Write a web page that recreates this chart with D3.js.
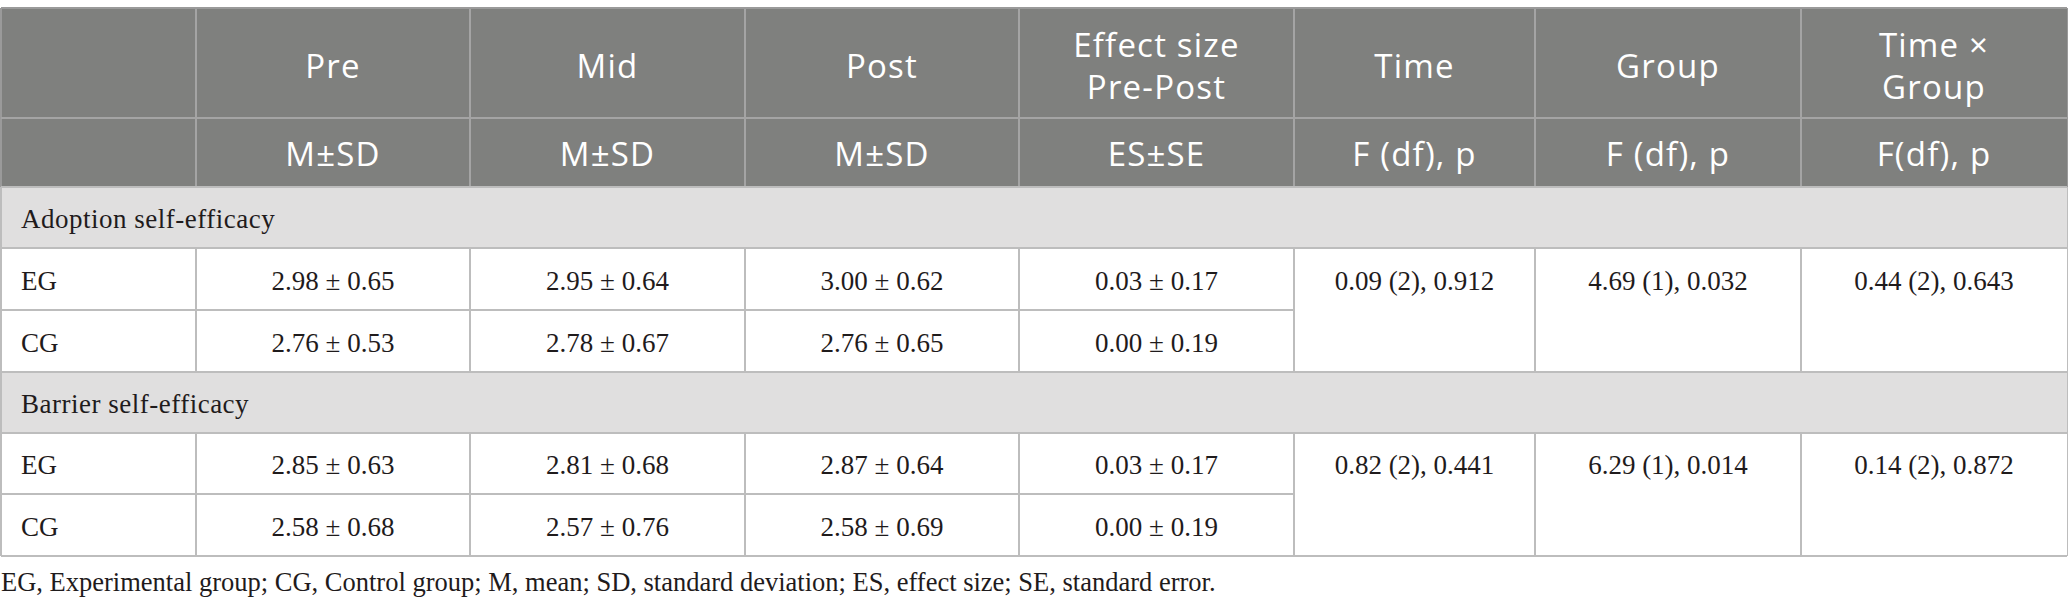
<!DOCTYPE html>
<html>
<head>
<meta charset="utf-8">
<script src="https://cdn.jsdelivr.net/npm/d3@7"></script>
<style>
  body { margin: 0; background: #fff; }
  svg { display: block; }
</style>
</head>
<body>
<svg id="table" width="2068" height="612"></svg>
<script>
/*******************************************************************************
 * Table content
 *******************************************************************************/
const headerTop = ["Pre", "Mid", "Post", "Effect size\nPre-Post", "Time", "Group", "Time \u00d7\nGroup"];
const headerSub = ["M\u00b1SD", "M\u00b1SD", "M\u00b1SD", "ES\u00b1SE", "F (df), p", "F (df), p", "F(df), p"];
const sections = ["Adoption self-efficacy", "Barrier self-efficacy"];
const groups = ["EG", "CG"];

// [mean, sd] for Pre, Mid, Post and [es, se] for the pre-post effect size
const adoptionEG = [[2.98, 0.65], [2.95, 0.64], [3.00, 0.62], [0.03, 0.17]];
const adoptionCG = [[2.76, 0.53], [2.78, 0.67], [2.76, 0.65], [0.00, 0.19]];
const barrierEG = [[2.85, 0.63], [2.81, 0.68], [2.87, 0.64], [0.03, 0.17]];
const barrierCG = [[2.58, 0.68], [2.57, 0.76], [2.58, 0.69], [0.00, 0.19]];

// [F, df, p] for Time, Group, Time x Group
const adoptionTests = [[0.09, 2, "0.912"], [4.69, 1, "0.032"], [0.44, 2, "0.643"]];
const barrierTests = [[0.82, 2, "0.441"], [6.29, 1, "0.014"], [0.14, 2, "0.872"]];

const footnote = "EG, Experimental group; CG, Control group; M, mean; SD, standard deviation; ES, effect size; SE, standard error.";

/*******************************************************************************
 * Layout
 *******************************************************************************/
const colEdges = [0, 196, 470, 745, 1019, 1294, 1535, 1801, 2067];
const rowKeys = ["head1", "head2", "sec0", "sec0EG", "sec0CG", "sec1", "sec1EG", "sec1CG"];
const rowEdges = [8, 118, 187, 248, 310, 372, 433, 494, 556];

const colKeys = d3.range(colEdges.length - 1);
const x0 = d3.scaleOrdinal().domain(colKeys).range(colEdges.slice(0, -1));
const x1 = d3.scaleOrdinal().domain(colKeys).range(colEdges.slice(1));
const y0 = d3.scaleOrdinal().domain(rowKeys).range(rowEdges.slice(0, -1));
const y1 = d3.scaleOrdinal().domain(rowKeys).range(rowEdges.slice(1));
const xMid = c => (x0(c) + x1(c)) / 2;
const yMid = r => (y0(r) + y1(r)) / 2;

const fmt = d3.format(".2f");
const headFont = "'Open Sans', sans-serif";
const bodyFont = "'Liberation Serif', 'Times New Roman', serif";
const headBg = "#7f807e", headLine = "#a4a4a4", bandBg = "#e0dfdf", bodyLine = "#bdbdbd";
const textColor = "#1f1b1c";

const svg = d3.select("#table");

/*******************************************************************************
 * Backgrounds
 *******************************************************************************/
svg.append("rect")
  .attr("x", colEdges[0]).attr("y", y0("head1"))
  .attr("width", colEdges[colEdges.length - 1] - colEdges[0])
  .attr("height", y1("head2") - y0("head1"))
  .attr("fill", headBg);

sections.forEach((s, i) => {
  const key = "sec" + i;
  svg.append("rect")
    .attr("x", colEdges[0]).attr("y", y0(key))
    .attr("width", colEdges[colEdges.length - 1] - colEdges[0])
    .attr("height", y1(key) - y0(key))
    .attr("fill", bandBg);
});

/*******************************************************************************
 * Grid lines
 *******************************************************************************/
const grid = svg.append("g").attr("shape-rendering", "crispEdges").attr("stroke-width", 1.5);
const left = colEdges[0] + 0.75, right = colEdges[colEdges.length - 1] + 0.25;

// header vertical + horizontal lines
colEdges.forEach((cx, i) => {
  const xx = i === 0 ? left : (i === colEdges.length - 1 ? right : cx);
  grid.append("line").attr("x1", xx).attr("x2", xx)
    .attr("y1", y0("head1")).attr("y2", y1("head2"))
    .attr("stroke", i === 0 || i === colEdges.length - 1 ? "#9a9a9a" : headLine);
});
grid.append("line").attr("x1", left).attr("x2", right)
  .attr("y1", y0("head1")).attr("y2", y0("head1")).attr("stroke", "#9a9a9a");
grid.append("line").attr("x1", left).attr("x2", right)
  .attr("y1", y1("head1")).attr("y2", y1("head1")).attr("stroke", headLine);

// body
sections.forEach((s, i) => {
  const key = "sec" + i;
  [y0(key), y1(key)].forEach(yy => {
    grid.append("line").attr("x1", left).attr("x2", right)
      .attr("y1", yy).attr("y2", yy).attr("stroke", bodyLine);
  });
  grid.append("line").attr("x1", left).attr("x2", left)
    .attr("y1", y0(key)).attr("y2", y1(key + "CG")).attr("stroke", bodyLine);
  grid.append("line").attr("x1", right).attr("x2", right)
    .attr("y1", y0(key)).attr("y2", y1(key + "CG")).attr("stroke", bodyLine);
  colEdges.slice(1, -1).forEach(cx => {
    grid.append("line").attr("x1", cx).attr("x2", cx)
      .attr("y1", y0(key + "EG")).attr("y2", y1(key + "CG")).attr("stroke", bodyLine);
  });
  // split EG / CG only up to the merged test columns
  grid.append("line").attr("x1", left).attr("x2", x0(5))
    .attr("y1", y1(key + "EG")).attr("y2", y1(key + "EG")).attr("stroke", bodyLine);
});
grid.append("line").attr("x1", left).attr("x2", right)
  .attr("y1", y1("sec1CG")).attr("y2", y1("sec1CG")).attr("stroke", bodyLine);

/*******************************************************************************
 * Header text
 *******************************************************************************/
const head = svg.append("g")
  .attr("font-family", headFont).attr("font-size", 33).attr("fill", "#fff")
  .attr("text-anchor", "middle").attr("letter-spacing", 1.2);

headerTop.forEach((label, i) => {
  const lines = label.split("\n");
  const c = i + 1;
  const t = head.append("text").attr("x", xMid(c));
  const centre = yMid("head1") + 3;
  lines.forEach((ln, j) => {
    t.append("tspan").attr("x", xMid(c))
      .attr("y", centre + (j - (lines.length - 1) / 2) * 42)
      .attr("dy", "0.36em").text(ln);
  });
});

headerSub.forEach((label, i) => {
  head.append("text").attr("x", xMid(i + 1)).attr("y", yMid("head2") + 2)
    .attr("dy", "0.36em").text(label);
});

/*******************************************************************************
 * Body text
 *******************************************************************************/
const body = svg.append("g")
  .attr("font-family", bodyFont).attr("font-size", 27).attr("fill", textColor);

const sectionRows = [[adoptionEG, adoptionCG], [barrierEG, barrierCG]];
const sectionTests = [adoptionTests, barrierTests];

sections.forEach((s, i) => {
  const key = "sec" + i;
  body.append("text").attr("x", 21).attr("y", yMid(key) + 2)
    .attr("dy", "0.33em").attr("letter-spacing", 0.5).text(s);

  groups.forEach((g, gi) => {
    const rk = key + g;
    body.append("text").attr("x", 21).attr("y", yMid(rk) + 2)
      .attr("dy", "0.33em").text(g);

    body.selectAll(null)
      .data(sectionRows[i][gi])
      .enter().append("text")
      .attr("x", (d, c) => xMid(c + 1))
      .attr("y", yMid(rk) + 2)
      .attr("dy", "0.33em")
      .attr("text-anchor", "middle")
      .text(d => fmt(d[0]) + " \u00b1 " + fmt(d[1]));
  });

  // merged cells: text sits on the EG line
  body.selectAll(null)
    .data(sectionTests[i])
    .enter().append("text")
    .attr("x", (d, c) => xMid(c + 5))
    .attr("y", yMid(key + "EG") + 2)
    .attr("dy", "0.33em")
    .attr("text-anchor", "middle")
    .text(d => `${fmt(d[0])} (${d[1]}), ${d[2]}`);
});

svg.append("text")
  .attr("x", 1).attr("y", 582).attr("dy", "0.33em")
  .attr("font-family", bodyFont).attr("font-size", 26.5).attr("fill", textColor)
  .text(footnote);
</script>
</body>
</html>
